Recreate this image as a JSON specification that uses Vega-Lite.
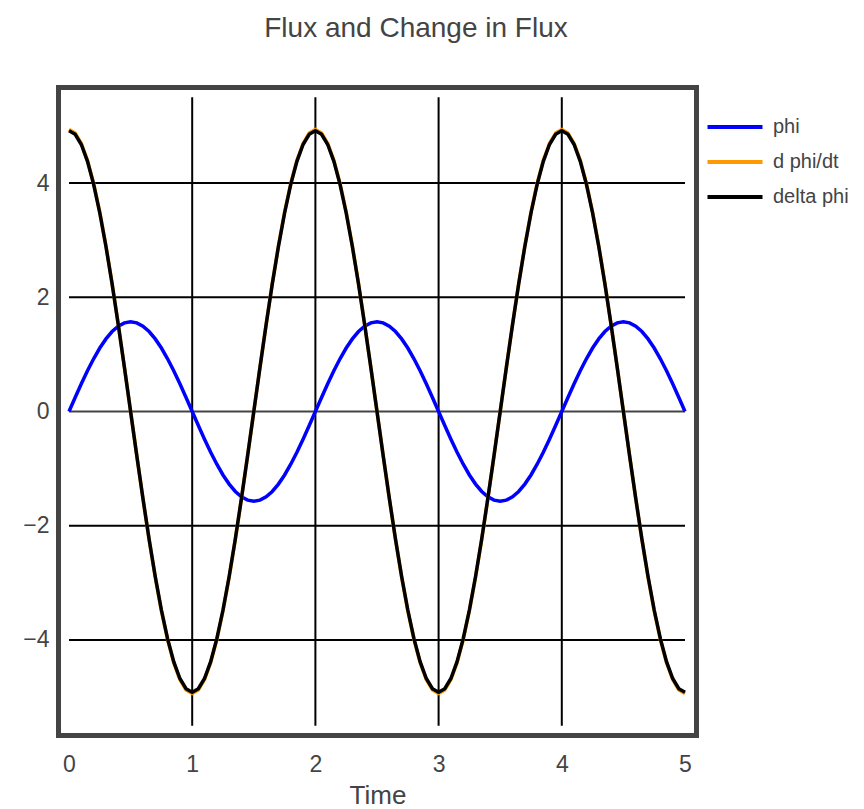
{
  "$schema": "https://vega.github.io/schema/vega-lite/v6.json",
  "width": 638,
  "height": 648,
  "autosize": {"type": "none"},
  "padding": {"left": 58.5, "top": 87.5, "right": 167.5, "bottom": 73.5},
  "background": "white",
  "title": {"text": "Flux and Change in Flux", "fontSize": 28, "font": "Liberation Sans", "color": "#444444", "fontWeight": "normal", "anchor": "middle", "dx": 38.5, "offset": 45},
  "config": {
    "font": "Liberation Sans",
    "view": {"stroke": "#444444", "strokeWidth": 5},
    "legend": {
      "orient": "none", "legendX": 654.5, "legendY": 17.5, "fillColor": "white", "padding": 12,
      "symbolType": "M-5,0H5", "symbolSize": 121, "symbolStrokeWidth": 4, "labelFontSize": 20,
      "labelColor": "#444444", "labelOffset": 28, "rowPadding": 15, "title": null
    }
  },
  "datasets": {
    "flux": [
      {"t":0,"phi":0,"d":4.935,"dl":4.914},
      {"t":0.05,"phi":0.246,"d":4.874,"dl":4.854},
      {"t":0.1,"phi":0.485,"d":4.693,"dl":4.674},
      {"t":0.15,"phi":0.713,"d":4.397,"dl":4.379},
      {"t":0.2,"phi":0.923,"d":3.992,"dl":3.976},
      {"t":0.25,"phi":1.111,"d":3.489,"dl":3.475},
      {"t":0.3,"phi":1.271,"d":2.901,"dl":2.889},
      {"t":0.35,"phi":1.4,"d":2.24,"dl":2.231},
      {"t":0.4,"phi":1.494,"d":1.525,"dl":1.519},
      {"t":0.45,"phi":1.551,"d":0.772,"dl":0.769},
      {"t":0.5,"phi":1.571,"d":0,"dl":0},
      {"t":0.55,"phi":1.551,"d":-0.772,"dl":-0.769},
      {"t":0.6,"phi":1.494,"d":-1.525,"dl":-1.519},
      {"t":0.65,"phi":1.4,"d":-2.24,"dl":-2.231},
      {"t":0.7,"phi":1.271,"d":-2.901,"dl":-2.889},
      {"t":0.75,"phi":1.111,"d":-3.489,"dl":-3.475},
      {"t":0.8,"phi":0.923,"d":-3.992,"dl":-3.976},
      {"t":0.85,"phi":0.713,"d":-4.397,"dl":-4.379},
      {"t":0.9,"phi":0.485,"d":-4.693,"dl":-4.674},
      {"t":0.95,"phi":0.246,"d":-4.874,"dl":-4.854},
      {"t":1,"phi":0,"d":-4.935,"dl":-4.914},
      {"t":1.05,"phi":-0.246,"d":-4.874,"dl":-4.854},
      {"t":1.1,"phi":-0.485,"d":-4.693,"dl":-4.674},
      {"t":1.15,"phi":-0.713,"d":-4.397,"dl":-4.379},
      {"t":1.2,"phi":-0.923,"d":-3.992,"dl":-3.976},
      {"t":1.25,"phi":-1.111,"d":-3.489,"dl":-3.475},
      {"t":1.3,"phi":-1.271,"d":-2.901,"dl":-2.889},
      {"t":1.35,"phi":-1.4,"d":-2.24,"dl":-2.231},
      {"t":1.4,"phi":-1.494,"d":-1.525,"dl":-1.519},
      {"t":1.45,"phi":-1.551,"d":-0.772,"dl":-0.769},
      {"t":1.5,"phi":-1.571,"d":0,"dl":0},
      {"t":1.55,"phi":-1.551,"d":0.772,"dl":0.769},
      {"t":1.6,"phi":-1.494,"d":1.525,"dl":1.519},
      {"t":1.65,"phi":-1.4,"d":2.24,"dl":2.231},
      {"t":1.7,"phi":-1.271,"d":2.901,"dl":2.889},
      {"t":1.75,"phi":-1.111,"d":3.489,"dl":3.475},
      {"t":1.8,"phi":-0.923,"d":3.992,"dl":3.976},
      {"t":1.85,"phi":-0.713,"d":4.397,"dl":4.379},
      {"t":1.9,"phi":-0.485,"d":4.693,"dl":4.674},
      {"t":1.95,"phi":-0.246,"d":4.874,"dl":4.854},
      {"t":2,"phi":0,"d":4.935,"dl":4.914},
      {"t":2.05,"phi":0.246,"d":4.874,"dl":4.854},
      {"t":2.1,"phi":0.485,"d":4.693,"dl":4.674},
      {"t":2.15,"phi":0.713,"d":4.397,"dl":4.379},
      {"t":2.2,"phi":0.923,"d":3.992,"dl":3.976},
      {"t":2.25,"phi":1.111,"d":3.489,"dl":3.475},
      {"t":2.3,"phi":1.271,"d":2.901,"dl":2.889},
      {"t":2.35,"phi":1.4,"d":2.24,"dl":2.231},
      {"t":2.4,"phi":1.494,"d":1.525,"dl":1.519},
      {"t":2.45,"phi":1.551,"d":0.772,"dl":0.769},
      {"t":2.5,"phi":1.571,"d":0,"dl":0},
      {"t":2.55,"phi":1.551,"d":-0.772,"dl":-0.769},
      {"t":2.6,"phi":1.494,"d":-1.525,"dl":-1.519},
      {"t":2.65,"phi":1.4,"d":-2.24,"dl":-2.231},
      {"t":2.7,"phi":1.271,"d":-2.901,"dl":-2.889},
      {"t":2.75,"phi":1.111,"d":-3.489,"dl":-3.475},
      {"t":2.8,"phi":0.923,"d":-3.992,"dl":-3.976},
      {"t":2.85,"phi":0.713,"d":-4.397,"dl":-4.379},
      {"t":2.9,"phi":0.485,"d":-4.693,"dl":-4.674},
      {"t":2.95,"phi":0.246,"d":-4.874,"dl":-4.854},
      {"t":3,"phi":0,"d":-4.935,"dl":-4.914},
      {"t":3.05,"phi":-0.246,"d":-4.874,"dl":-4.854},
      {"t":3.1,"phi":-0.485,"d":-4.693,"dl":-4.674},
      {"t":3.15,"phi":-0.713,"d":-4.397,"dl":-4.379},
      {"t":3.2,"phi":-0.923,"d":-3.992,"dl":-3.976},
      {"t":3.25,"phi":-1.111,"d":-3.489,"dl":-3.475},
      {"t":3.3,"phi":-1.271,"d":-2.901,"dl":-2.889},
      {"t":3.35,"phi":-1.4,"d":-2.24,"dl":-2.231},
      {"t":3.4,"phi":-1.494,"d":-1.525,"dl":-1.519},
      {"t":3.45,"phi":-1.551,"d":-0.772,"dl":-0.769},
      {"t":3.5,"phi":-1.571,"d":0,"dl":0},
      {"t":3.55,"phi":-1.551,"d":0.772,"dl":0.769},
      {"t":3.6,"phi":-1.494,"d":1.525,"dl":1.519},
      {"t":3.65,"phi":-1.4,"d":2.24,"dl":2.231},
      {"t":3.7,"phi":-1.271,"d":2.901,"dl":2.889},
      {"t":3.75,"phi":-1.111,"d":3.489,"dl":3.475},
      {"t":3.8,"phi":-0.923,"d":3.992,"dl":3.976},
      {"t":3.85,"phi":-0.713,"d":4.397,"dl":4.379},
      {"t":3.9,"phi":-0.485,"d":4.693,"dl":4.674},
      {"t":3.95,"phi":-0.246,"d":4.874,"dl":4.854},
      {"t":4,"phi":0,"d":4.935,"dl":4.914},
      {"t":4.05,"phi":0.246,"d":4.874,"dl":4.854},
      {"t":4.1,"phi":0.485,"d":4.693,"dl":4.674},
      {"t":4.15,"phi":0.713,"d":4.397,"dl":4.379},
      {"t":4.2,"phi":0.923,"d":3.992,"dl":3.976},
      {"t":4.25,"phi":1.111,"d":3.489,"dl":3.475},
      {"t":4.3,"phi":1.271,"d":2.901,"dl":2.889},
      {"t":4.35,"phi":1.4,"d":2.24,"dl":2.231},
      {"t":4.4,"phi":1.494,"d":1.525,"dl":1.519},
      {"t":4.45,"phi":1.551,"d":0.772,"dl":0.769},
      {"t":4.5,"phi":1.571,"d":0,"dl":0},
      {"t":4.55,"phi":1.551,"d":-0.772,"dl":-0.769},
      {"t":4.6,"phi":1.494,"d":-1.525,"dl":-1.519},
      {"t":4.65,"phi":1.4,"d":-2.24,"dl":-2.231},
      {"t":4.7,"phi":1.271,"d":-2.901,"dl":-2.889},
      {"t":4.75,"phi":1.111,"d":-3.489,"dl":-3.475},
      {"t":4.8,"phi":0.923,"d":-3.992,"dl":-3.976},
      {"t":4.85,"phi":0.713,"d":-4.397,"dl":-4.379},
      {"t":4.9,"phi":0.485,"d":-4.693,"dl":-4.674},
      {"t":4.95,"phi":0.246,"d":-4.874,"dl":-4.854},
      {"t":5,"phi":0,"d":-4.935,"dl":-4.914}
    ],
    "vgrid": [{"x":1},{"x":2},{"x":3},{"x":4}],
    "hgrid": [{"y":-4},{"y":-2},{"y":2},{"y":4}]
  },
  "layer": [
    {
      "data": {"name": "vgrid"},
      "mark": {"type": "rule", "color": "black", "strokeWidth": 2},
      "encoding": {
        "x": {"field": "x", "type": "quantitative", "scale": {"domain": [-0.0852, 5.0934], "nice": false, "zero": false},
              "axis": {"values": [0,1,2,3,4,5], "format": "d", "grid": false, "domain": false, "ticks": false, "labelFlush": false, "labelFontSize": 23, "labelColor": "#444444", "labelPadding": 18, "title": "Time", "titleFontSize": 26, "titleColor": "#444444", "titleFontWeight": "normal", "titlePadding": 5.5}},
        "y": {"datum": -5.5, "type": "quantitative", "scale": {"domain": [-5.672, 5.672], "nice": false, "zero": false},
              "axis": {"values": [-4,-2,0,2,4], "format": "d", "grid": false, "domain": false, "ticks": false, "labelFontSize": 23, "labelColor": "#444444", "labelPadding": 9.5, "title": null}},
        "y2": {"datum": 5.5}
      }
    },
    {
      "data": {"name": "hgrid"},
      "mark": {"type": "rule", "color": "black", "strokeWidth": 2},
      "encoding": {
        "y": {"field": "y", "type": "quantitative"},
        "x": {"datum": 0, "type": "quantitative"},
        "x2": {"datum": 5}
      }
    },
    {
      "data": {"values": [{"z": 0}]},
      "mark": {"type": "rule", "color": "#444444", "strokeWidth": 2},
      "encoding": {
        "y": {"field": "z", "type": "quantitative"},
        "x": {"datum": 0, "type": "quantitative"},
        "x2": {"datum": 5}
      }
    },
    {
      "data": {"name": "flux"},
      "mark": {"type": "line", "strokeWidth": 3.5},
      "encoding": {
        "x": {"field": "t", "type": "quantitative"},
        "y": {"field": "phi", "type": "quantitative"},
        "color": {"datum": "phi", "type": "nominal", "scale": {"domain": ["phi", "d phi/dt", "delta phi"], "range": ["#0000ff", "#ff9900", "#000000"]}}
      }
    },
    {
      "data": {"name": "flux"},
      "mark": {"type": "line", "strokeWidth": 3.5},
      "encoding": {
        "x": {"field": "t", "type": "quantitative"},
        "y": {"field": "d", "type": "quantitative"},
        "color": {"datum": "d phi/dt", "type": "nominal"}
      }
    },
    {
      "data": {"name": "flux"},
      "mark": {"type": "line", "strokeWidth": 3.5},
      "encoding": {
        "x": {"field": "t", "type": "quantitative"},
        "y": {"field": "dl", "type": "quantitative"},
        "color": {"datum": "delta phi", "type": "nominal"}
      }
    }
  ]
}
